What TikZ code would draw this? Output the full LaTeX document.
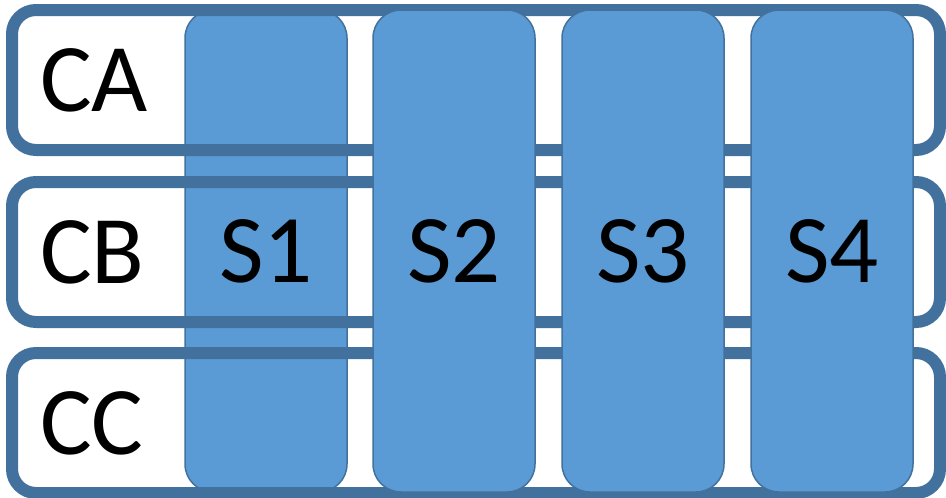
\documentclass[tikz,border=0pt]{standalone}
\usepackage{fontspec}
\setmainfont{Carlito}
\definecolor{rowline}{HTML}{41719C}
\definecolor{slotfill}{HTML}{5B9BD5}
\begin{document}
\begin{tikzpicture}[x=1pt,y=-1pt]
  \tikzstyle{row} = [rectangle, draw=rowline, line width=12pt, rounded corners=24pt, minimum height=140pt, text width=872pt, inner xsep=28pt, inner ysep=0pt, align=left, font=\fontsize{97}{100}\selectfont]
  \tikzstyle{slot} = [rectangle, draw=rowline, line width=1.5pt, fill=slotfill, rounded corners=28pt, minimum width=162pt, minimum height=482pt, inner sep=0pt, font=\fontsize{97}{100}\selectfont]

  % background and margins
  \fill [white] (0,0) rectangle (946,498);
  \useasboundingbox (0,0) rectangle (946,498);

  % first slot sits under the rows
  \node [slot] (s1) at (266,251) {S1};

  % rows
  \node [row] (ca) at (476,80) {CA};
  \node [row] (cb) at (476,252) {CB};
  \node [row] (cc) at (476,423) {CC};

  % other slots on top
  \node [slot] (s2) at (454,251) {S2};
  \node [slot] (s3) at (643,251) {S3};
  \node [slot] (s4) at (832,251) {S4};
\end{tikzpicture}
\end{document}
